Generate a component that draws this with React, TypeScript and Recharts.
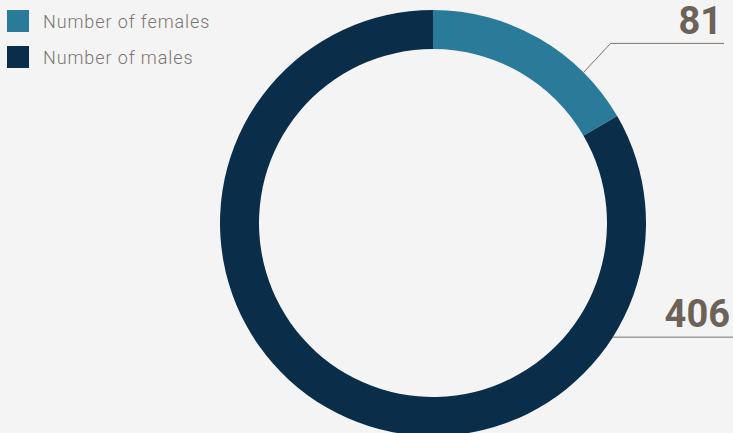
import React from "react";
import { PieChart, Pie, Cell } from "recharts";

const categories = ["Number of females", "Number of males"];
const values = [81, 406];
const colors = ["#2a7a9a", "#0a2e4a"];
const labelAngles = [45, -32.4];

const data = categories.map((name, i) => ({ name, value: values[i] }));

const TEXT = "#6d6258";
const LINE = "#7c726a";

const renderLabel = (props: any) => {
  const { cx, cy, outerRadius, index, value } = props;
  const a = (labelAngles[index] * Math.PI) / 180;
  const x0 = cx + outerRadius * Math.cos(a);
  const y0 = cy - outerRadius * Math.sin(a);
  if (index === 0) {
    const ex = x0 + 27;
    const ey = y0 - 29;
    const endX = cx + 291;
    return (
      <g>
        <path d={`M${x0},${y0}L${ex},${ey}L${endX},${ey}`} stroke={LINE} strokeWidth={1} fill="none" />
        <text x={endX - 2} y={ey - 9} textAnchor="end" fill={TEXT} fontFamily="Roboto" fontWeight={700} fontSize={38}>
          {value}
        </text>
      </g>
    );
  }
  const endX = cx + 300;
  return (
    <g>
      <path d={`M${x0},${y0}L${endX},${y0}`} stroke={LINE} strokeWidth={1} fill="none" />
      <text x={endX - 3} y={y0 - 10} textAnchor="end" fill={TEXT} fontFamily="Roboto" fontWeight={700} fontSize={38}>
        {value}
      </text>
    </g>
  );
};

export default function App() {
  return (
    <div style={{ position: "absolute", left: 0, top: 0, width: 733, height: 433, background: "#f4f4f4", overflow: "hidden" }}>
      <PieChart width={733} height={446} margin={{ top: 0, right: 0, bottom: 0, left: 0 }}>
        <Pie
          data={data}
          dataKey="value"
          nameKey="name"
          cx={433}
          cy={223}
          innerRadius={174}
          outerRadius={213}
          startAngle={90}
          endAngle={-270}
          stroke="none"
          label={renderLabel}
          labelLine={false}
          isAnimationActive={false}
        >
          {data.map((d, i) => (
            <Cell key={d.name} fill={colors[i]} />
          ))}
        </Pie>
      </PieChart>
      <div style={{ position: "absolute", left: 7, top: 10, display: "flex", flexDirection: "column", gap: 14 }}>
        {categories.map((c, i) => (
          <div key={c} style={{ display: "flex", alignItems: "center", height: 22 }}>
            <div style={{ width: 22, height: 22, background: colors[i], marginRight: 14 }} />
            <span style={{ fontFamily: "Roboto", fontWeight: 300, fontSize: 18, letterSpacing: 0.9, color: "#7b7571" }}>{c}</span>
          </div>
        ))}
      </div>
    </div>
  );
}
